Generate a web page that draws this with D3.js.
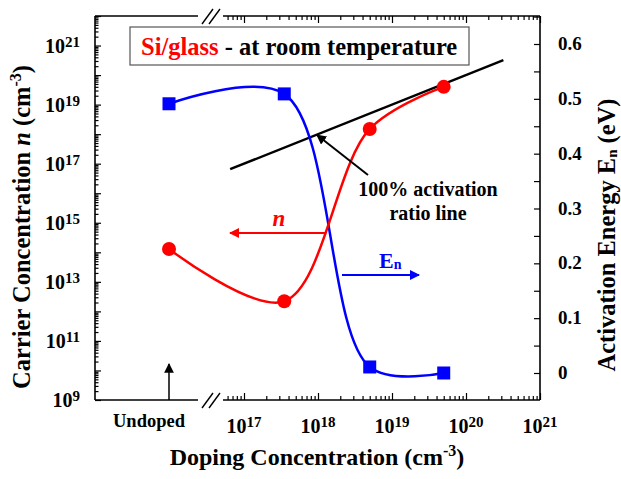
<!DOCTYPE html>
<html>
<head>
<meta charset="utf-8">
<script src="https://cdn.jsdelivr.net/npm/d3@7"></script>
<style>
  body { margin: 0; background: #fff; }
  svg text { font-family: "Liberation Serif", "DejaVu Serif", serif; font-weight: bold; }
  .tick line { stroke: #000; stroke-width: 1.2px; }
</style>
</head>
<body>
<div id="chart"></div>
<script>
// data
const doping = ["Undoped", 3.5e17, 5e18, 5e19];
const carrierN = [1.3e14, 2.2e12, 1.5e18, 4e19];
const activationE = [0.491, 0.509, 0.011, 0.0];
const ratioLine = [6.5e16, 3.2e20];          // n = N
const leftTickExp = [9, 11, 13, 15, 17, 19, 21];
const bottomTickExp = [17, 18, 19, 20, 21];
const rightTicks = [0, 0.1, 0.2, 0.3, 0.4, 0.5, 0.6];

const W = 621, H = 479;
const pL = 95, pR = 540, pT = 16, pB = 400;
const segEnd = 198, segStart = 223;

const svg = d3.select("#chart").append("svg")
    .attr("width", W).attr("height", H);

const yN = d3.scaleLog().domain([1e9, 1e22]).range([pB, pT]);
const yE = d3.scaleLinear().domain([0, 0.6]).range([373, 44]);
const xLog = d3.scaleLog().domain([1e17, 1e21]).range([244, pR]);
const xUnd = d3.scalePoint().domain(["Undoped"]).range([pL, 243]).padding(0.5);
const xPos = d => d === "Undoped" ? xUnd(d) : xLog(d);

// arrow markers
const defs = svg.append("defs");
[["red", "#ff0000", 5], ["blue", "#0000ff", 5], ["black", "#000", 5], ["up", "#000", 6.5]].forEach(([id, c, s]) => {
    defs.append("marker").attr("id", "arr-" + id)
        .attr("viewBox", "0 0 10 10").attr("refX", 9).attr("refY", 5)
        .attr("markerWidth", s).attr("markerHeight", s)
        .attr("markerUnits", "strokeWidth").attr("orient", "auto")
        .append("path").attr("d", "M0,0 L10,5 L0,10 z").attr("fill", c);
});

// log minor tick values
function logTicks(e0, e1) {
    const out = [];
    for (let k = e0; k <= e1; k++) for (let m = 1; m <= 9; m++) out.push(m * Math.pow(10, k));
    return out;
}
const isMajor = v => Math.abs(Math.log10(v) - Math.round(Math.log10(v))) < 1e-9;

// left axis ticks (inward)
const yVals = logTicks(9, 21).concat([1e22]);
svg.append("g").attr("transform", `translate(${pL},0)`)
    .call(d3.axisRight(yN).tickValues(yVals.filter(isMajor)).tickSize(6).tickFormat(""))
    .call(g => g.select(".domain").remove());
svg.append("g").attr("transform", `translate(${pL},0)`)
    .call(d3.axisRight(yN).tickValues(yVals.filter(v => !isMajor(v))).tickSize(3.5).tickFormat(""))
    .call(g => g.select(".domain").remove());

// right axis ticks (inward)
svg.append("g").attr("transform", `translate(${pR},0)`)
    .call(d3.axisLeft(yE).tickValues(d3.range(0, 0.651, 0.05)).tickSize(6).tickFormat(""))
    .call(g => g.select(".domain").remove());

// bottom and top log ticks on the doped segment
const xVals = logTicks(16, 20).concat([1e21]).filter(v => xLog(v) >= segStart && xLog(v) <= pR + 0.5);
[[pB, d3.axisTop], [pT, d3.axisBottom]].forEach(([yy, ax]) => {
    svg.append("g").attr("transform", `translate(0,${yy})`)
        .call(ax(xLog).tickValues(xVals.filter(isMajor)).tickSize(7).tickFormat(""))
        .call(g => g.select(".domain").remove());
    svg.append("g").attr("transform", `translate(0,${yy})`)
        .call(ax(xLog).tickValues(xVals.filter(v => !isMajor(v))).tickSize(4).tickFormat(""))
        .call(g => g.select(".domain").remove());
});

// frame with axis break
const frame = svg.append("g").attr("stroke", "#000").attr("stroke-width", 1.6).attr("fill", "none");
frame.append("line").attr("x1", pL).attr("x2", pL).attr("y1", pT).attr("y2", pB);
frame.append("line").attr("x1", pR).attr("x2", pR).attr("y1", pT).attr("y2", pB);
[pT, pB].forEach(yy => {
    frame.append("line").attr("x1", pL).attr("x2", segEnd).attr("y1", yy).attr("y2", yy);
    frame.append("line").attr("x1", segStart).attr("x2", pR).attr("y1", yy).attr("y2", yy);
    [0, 7].forEach(o => {
        frame.append("line")
            .attr("x1", 202 + o).attr("y1", yy + 8)
            .attr("x2", 213 + o).attr("y2", yy - 7)
            .attr("stroke-width", 1.4);
    });
});

// left tick labels
const lt = svg.append("g").selectAll("text").data(leftTickExp).join("text")
    .attr("x", 80).attr("y", d => yN(Math.pow(10, d)) + 7)
    .attr("text-anchor", "end").attr("font-size", 20);
lt.append("tspan").text("10");
lt.append("tspan").attr("dy", -6).attr("font-size", 15).text(d => d);

// bottom tick labels
const bt = svg.append("g").selectAll("text").data(bottomTickExp).join("text")
    .attr("x", d => xLog(Math.pow(10, d))).attr("y", 433)
    .attr("text-anchor", "middle").attr("font-size", 20);
bt.append("tspan").text("10");
bt.append("tspan").attr("dy", -6).attr("font-size", 15).text(d => d);

svg.append("text").attr("x", xUnd("Undoped") - 20).attr("y", 427)
    .attr("text-anchor", "middle").attr("font-size", 18.5).text("Undoped");

// right tick labels
svg.append("g").selectAll("text").data(rightTicks).join("text")
    .attr("x", 558).attr("y", d => yE(d) + 6)
    .attr("font-size", 19).text(d => d === 0 ? "0" : d.toFixed(1));

// axis titles
svg.append("text").attr("x", 317).attr("y", 465).attr("text-anchor", "middle").attr("font-size", 24)
    .call(t => {
        t.append("tspan").text("Doping Concentration (cm");
        t.append("tspan").attr("dy", -9).attr("font-size", 16).text("-3");
        t.append("tspan").attr("dy", 9).text(")");
    });
svg.append("text").attr("transform", "translate(30,227) rotate(-90)").attr("text-anchor", "middle").attr("font-size", 24.5)
    .call(t => {
        t.append("tspan").text("Carrier Concentration ");
        t.append("tspan").attr("font-style", "italic").text("n");
        t.append("tspan").text(" (cm");
        t.append("tspan").attr("dy", -9).attr("font-size", 16).text("-3");
        t.append("tspan").attr("dy", 9).text(")");
    });
svg.append("text").attr("transform", "translate(615,235) rotate(-90)").attr("text-anchor", "middle").attr("font-size", 24.5)
    .call(t => {
        t.append("tspan").text("Activation Energy E");
        t.append("tspan").attr("font-size", 15).attr("dy", 2).text("n");
        t.append("tspan").attr("dy", -2).text(" (eV)");
    });

// title box
svg.append("rect").attr("x", 130).attr("y", 27).attr("width", 339).attr("height", 38)
    .attr("fill", "#fff").attr("stroke", "#555").attr("stroke-width", 1.2);
svg.append("text").attr("x", 141).attr("y", 55).attr("font-size", 24.5)
    .call(t => {
        t.append("tspan").attr("fill", "#ff0000").text("Si/glass");
        t.append("tspan").attr("fill", "#000").text(" - at room temperature");
    });

// 100% activation ratio line
svg.append("path")
    .attr("d", d3.line().x(d => xLog(d)).y(d => yN(d))(ratioLine))
    .attr("stroke", "#000").attr("stroke-width", 2.4).attr("fill", "none");

// curves
const ptsN = doping.map((d, i) => [xPos(d), yN(carrierN[i])]);
const ptsE = doping.map((d, i) => [xPos(d), yE(activationE[i])]);
const curve = d3.line().curve(d3.curveCatmullRom);
svg.append("path").attr("d", curve(ptsE))
    .attr("stroke", "#0000ff").attr("stroke-width", 2.5).attr("fill", "none");
svg.append("path").attr("d", curve(ptsN))
    .attr("stroke", "#ff0000").attr("stroke-width", 2.5).attr("fill", "none");

svg.append("g").selectAll("rect").data(ptsE).join("rect")
    .attr("x", d => d[0] - 6.5).attr("y", d => d[1] - 6.5)
    .attr("width", 13).attr("height", 13).attr("fill", "#0000ff");
svg.append("g").selectAll("circle").data(ptsN).join("circle")
    .attr("cx", d => d[0]).attr("cy", d => d[1]).attr("r", 7).attr("fill", "#ff0000");

// annotations
svg.append("line").attr("x1", 325).attr("y1", 233).attr("x2", 230).attr("y2", 233)
    .attr("stroke", "#ff0000").attr("stroke-width", 2).attr("marker-end", "url(#arr-red)");
svg.append("text").attr("x", 279).attr("y", 226).attr("text-anchor", "middle")
    .attr("font-size", 23).attr("font-style", "italic").attr("fill", "#ff0000").text("n");

svg.append("line").attr("x1", 342).attr("y1", 275).attr("x2", 419).attr("y2", 275)
    .attr("stroke", "#0000ff").attr("stroke-width", 2).attr("marker-end", "url(#arr-blue)");
svg.append("text").attr("x", 379).attr("y", 268).attr("font-size", 22).attr("fill", "#0000ff")
    .call(t => {
        t.append("tspan").text("E");
        t.append("tspan").attr("font-size", 14).attr("dy", 1).text("n");
    });

svg.append("line").attr("x1", 368).attr("y1", 175).attr("x2", 317).attr("y2", 135)
    .attr("stroke", "#000").attr("stroke-width", 2).attr("marker-end", "url(#arr-black)");
svg.append("text").attr("x", 428).attr("y", 196).attr("text-anchor", "middle").attr("font-size", 20).text("100% activation");
svg.append("text").attr("x", 428).attr("y", 220).attr("text-anchor", "middle").attr("font-size", 20).text("ratio line");

svg.append("line").attr("x1", xUnd("Undoped")).attr("y1", pB).attr("x2", xUnd("Undoped")).attr("y2", 364)
    .attr("stroke", "#000").attr("stroke-width", 1.5).attr("marker-end", "url(#arr-up)");
</script>
</body>
</html>
